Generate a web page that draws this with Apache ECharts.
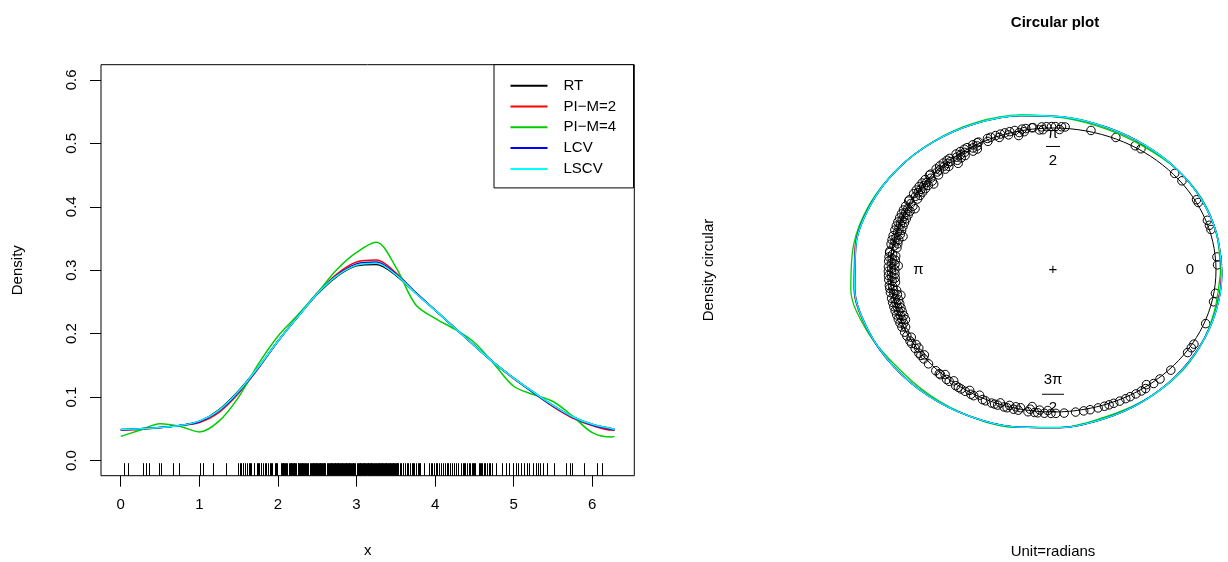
<!DOCTYPE html>
<html><head><meta charset="utf-8">
<script src="https://cdn.jsdelivr.net/npm/echarts@6/dist/echarts.min.js"></script>
<style>html,body{margin:0;padding:0;background:#fff}#c{width:1228px;height:562px}</style>
</head><body><div id="c"></div>
<script>
// ---- data ----
const xs   = [0,0.25,0.5,0.75,1,1.25,1.5,1.75,2,2.25,2.5,2.75,3,3.25,3.5,3.75,4,4.25,4.5,4.75,5,5.25,5.5,5.75,6,6.25,6.2832];
const rt   = [0.049,0.050,0.052,0.055,0.062,0.080,0.110,0.147,0.188,0.226,0.262,0.290,0.307,0.309,0.292,0.264,0.237,0.209,0.181,0.154,0.130,0.108,0.087,0.069,0.057,0.050,0.049];
const pim2 = [0.048,0.049,0.052,0.055,0.060,0.076,0.106,0.145,0.188,0.227,0.264,0.294,0.313,0.316,0.296,0.265,0.237,0.209,0.181,0.154,0.129,0.107,0.085,0.067,0.055,0.048,0.048];
const pim4 = [0.038,0.048,0.058,0.054,0.045,0.062,0.100,0.152,0.196,0.229,0.264,0.301,0.328,0.344,0.305,0.246,0.224,0.207,0.186,0.152,0.117,0.104,0.093,0.070,0.044,0.037,0.038];
const lcv  = [0.048,0.050,0.052,0.055,0.061,0.078,0.108,0.146,0.188,0.226,0.263,0.292,0.310,0.313,0.294,0.265,0.237,0.209,0.181,0.154,0.130,0.107,0.086,0.068,0.056,0.049,0.048];
const lscv = [0.049,0.050,0.052,0.055,0.062,0.079,0.109,0.147,0.188,0.226,0.263,0.291,0.308,0.311,0.293,0.264,0.237,0.209,0.181,0.154,0.130,0.108,0.087,0.069,0.057,0.050,0.049];
const rug = [0.036,0.091,0.286,0.317,0.354,0.49,0.512,0.671,0.739,1.007,1.048,1.179,1.338,1.497,1.519,1.53,1.556,1.58,1.61,1.633,1.64,1.655,1.692,1.70,1.737,1.75,1.76,1.782,1.79,1.805,1.837,1.85,1.868,1.896,1.91,1.927,1.959,1.98,1.986,
 2.04,2.05,2.06,2.07,2.08,2.09,2.10,2.12,2.14,2.15,2.16,2.17,2.18,2.19,2.20,2.21,2.22,2.23,2.25,2.26,2.27,2.28,2.29,2.30,2.31,2.32,2.33,2.35,2.36,2.37,2.38,2.41,2.42,2.43,2.44,2.45,2.46,2.47,2.48,2.49,2.50,2.51,2.52,2.53,2.54,2.55,2.56,2.57,2.58,2.59,2.60,2.63,2.64,2.65,2.66,2.67,2.68,2.69,2.70,2.71,2.72,2.73,2.74,2.75,2.76,2.77,2.78,2.79,2.80,2.81,2.82,2.83,2.84,2.85,2.86,2.87,2.88,2.89,2.90,2.91,2.92,2.93,2.94,2.95,2.96,2.97,2.98,3.01,3.02,3.03,3.04,3.05,3.06,3.07,3.08,3.09,3.10,3.11,3.12,3.13,3.14,3.15,3.16,3.17,3.18,3.19,3.20,3.21,3.22,3.23,3.25,3.26,3.27,3.28,3.29,3.30,3.31,3.32,3.33,3.34,3.35,3.36,3.37,3.38,3.39,3.40,3.41,3.42,3.43,3.44,3.45,3.46,3.47,3.48,3.49,3.50,3.51,3.52,3.53,3.55,3.56,
 3.59,3.62,3.64,3.66,3.68,3.70,3.72,3.73,3.76,3.78,3.79,3.81,3.855,3.92,3.95,3.96,3.98,4.01,4.03,4.05,4.08,4.10,4.12,4.15,4.17,4.19,4.21,4.24,4.27,4.29,4.33,4.35,4.37,4.38,4.41,4.43,4.44,4.47,4.48,4.50,4.51,4.56,4.57,4.58,4.60,4.62,4.63,4.66,4.68,4.70,4.73,4.78,4.85,4.90,4.94,4.99,5.03,5.06,5.09,5.13,5.17,5.20,5.24,5.28,5.31,5.33,5.37,5.42,5.51,5.67,5.71,5.74,5.90,6.06,6.12];
const names  = ['RT','PI\u2212M=2','PI\u2212M=4','LCV','LSCV'];
const colors = ['#000000','#FF0000','#00CD00','#0000FF','#00FFFF'];
const curves = [rt,pim2,pim4,lcv,lscv];
const xTicks = [0,1,2,3,4,5,6];
const yTicks = [0,0.1,0.2,0.3,0.4,0.5,0.6];

// ---- styling / layout constants ----
const FONT = 'Liberation Sans, Arial, sans-serif';
const K = 0.72;        // radial scale of density on the circular plot
const R0 = 1.01, SEP = 0.02, BINS = 200;
const SMOOTH = 0.33;

const chart = echarts.init(document.getElementById('c'), null, {renderer:'canvas'});

const series = [];
curves.forEach((d,i) => {
  series.push({
    type:'line', name:names[i], xAxisIndex:0, yAxisIndex:0,
    data: xs.map((x,j)=>[x,d[j]]), smooth:SMOOTH, showSymbol:false, silent:true,
    color: colors[i], lineStyle:{color:colors[i], width:1.5}, z: 3+i
  });
});
series.push({
  type:'custom', xAxisIndex:0, yAxisIndex:0, silent:true,
  data: rug.map(v=>[v,0]),
  renderItem:(params, api)=>{
    const cs = params.coordSys;
    const p = api.coord([api.value(0),0]);
    const yb = cs.y + cs.height;
    const x = Math.round(p[0]) + 0.5;
    return {type:'line', shape:{x1:x,y1:yb,x2:x,y2:yb-12.5}, style:{stroke:'#000', lineWidth:1}};
  }
});
// circle
series.push({
  type:'custom', xAxisIndex:1, yAxisIndex:1, silent:true, data:[[0,0]], z:2,
  renderItem:(params, api)=>{
    const c = api.coord([0,0]); const s = api.size([1,1]);
    return {type:'ellipse', shape:{cx:c[0], cy:c[1], rx:s[0], ry:s[1]}, style:{fill:'none', stroke:'#000', lineWidth:1}};
  }
});
// labels inside the circle
series.push({
  type:'custom', xAxisIndex:1, yAxisIndex:1, silent:true, data:[[0,0]], z:2,
  renderItem:(params, api)=>{
    const st = (t,x,y)=>({type:'text', style:{text:t, x:x, y:y, align:'center', verticalAlign:'middle', font:'15px '+FONT, fill:'#000'}});
    const c = api.coord([0,0]);
    const r0 = api.coord([0.84,0]), rp = api.coord([-0.825,0]);
    const t = api.coord([0,0.87]), b = api.coord([0,-0.875]);
    return {type:'group', children:[
      st('+', c[0], c[1]),
      st('0', r0[0], r0[1]),
      st('\u03C0', rp[0], rp[1]),
      st('\u03C0', t[0], t[1]-13),
      {type:'line', shape:{x1:t[0]-7, y1:t[1], x2:t[0]+7, y2:t[1]}, style:{stroke:'#000', lineWidth:1}},
      st('2', t[0], t[1]+14),
      st('3\u03C0', b[0], b[1]-14),
      {type:'line', shape:{x1:b[0]-11, y1:b[1], x2:b[0]+11, y2:b[1]}, style:{stroke:'#000', lineWidth:1}},
      st('2', b[0], b[1]+14)
    ]};
  }
});
// points on the circle (stacked inward per bin)
const binCount = {};
const pts = rug.slice().sort((a,b)=>a-b).map(v=>{
  const bin = Math.floor(v/(2*Math.PI)*BINS);
  const n = binCount[bin] || 0; binCount[bin] = n+1;
  const r = R0 - SEP*n;
  return [r*Math.cos(v), r*Math.sin(v)];
});
series.push({
  type:'scatter', xAxisIndex:1, yAxisIndex:1, silent:true, data:pts, symbol:'circle', symbolSize:8.5, z:3,
  itemStyle:{color:'rgba(0,0,0,0)', borderColor:'#000', borderWidth:1, opacity:1}
});
// densities on the circle
curves.forEach((d,i)=>{
  series.push({
    type:'line', name:names[i], xAxisIndex:1, yAxisIndex:1, silent:true,
    data: xs.map((x,j)=>{ const r = 1 + K*d[j]; return [r*Math.cos(x), r*Math.sin(x)]; }),
    smooth:SMOOTH, showSymbol:false, color:colors[i], lineStyle:{color:colors[i], width:1.3}, z:4+i, clip:false
  });
});

const axisTextStyle = {fontSize:15, fontFamily:FONT, color:'#000'};
chart.setOption({
  animation:false,
  backgroundColor:'#fff',
  textStyle:{fontFamily:FONT},
  graphic:[{type:'text', x:1055, y:23, style:{text:'Circular plot', x:0, y:0, align:'center', verticalAlign:'middle', font:'bold 15px '+FONT, fill:'#000'}}],
  legend:{
    data:names, orient:'vertical', left:494, top:64.7, icon:'rect', itemWidth:37, itemHeight:2, itemGap:4.8,
    padding:[13,0,11,16.5], borderColor:'#000', borderWidth:1, backgroundColor:'#fff', selectedMode:false,
    itemStyle:{borderWidth:0},
    textStyle:{fontSize:15, fontFamily:FONT, color:'#000', padding:[0,0,0,11], width:70, lineHeight:16}
  },
  grid:[
    {left:101, right:593.7, top:64.7, bottom:86.3, show:true, borderColor:'#000', borderWidth:1, backgroundColor:'rgba(0,0,0,0)', outerBoundsMode:'none', containLabel:false},
    {left:841.1, right:-36.9, top:92.5, bottom:114.5, show:false, outerBoundsMode:'none', containLabel:false}
  ],
  xAxis:[
    {type:'value', gridIndex:0, min:-0.2513, max:6.5345, axisLine:{show:false, onZero:false}, splitLine:{show:false},
     axisTick:{show:true, customValues:xTicks, length:11, lineStyle:{color:'#000', width:1}},
     axisLabel:{show:true, customValues:xTicks, margin:22, ...axisTextStyle},
     name:'x', nameLocation:'middle', nameGap:68, nameTextStyle:axisTextStyle},
    {type:'value', gridIndex:1, min:-1.3, max:1.3, axisLine:{show:false, onZero:false}, axisTick:{show:false}, axisLabel:{show:false}, splitLine:{show:false},
     name:'Unit=radians', nameLocation:'middle', nameGap:97, nameTextStyle:axisTextStyle}
  ],
  yAxis:[
    {type:'value', gridIndex:0, min:-0.024, max:0.624, axisLine:{show:false, onZero:false}, splitLine:{show:false},
     axisTick:{show:true, customValues:yTicks, length:11, lineStyle:{color:'#000', width:1}},
     axisLabel:{show:true, customValues:yTicks, rotate:90, margin:22, formatter:v=>v.toFixed(1), ...axisTextStyle},
     name:'Density', nameLocation:'middle', nameRotate:90, nameGap:76, nameTextStyle:axisTextStyle},
    {type:'value', gridIndex:1, min:-1.25, max:1.25, axisLine:{show:false, onZero:false}, axisTick:{show:false}, axisLabel:{show:false}, splitLine:{show:false},
     name:'Density circular', nameLocation:'middle', nameRotate:90, nameGap:125, nameTextStyle:axisTextStyle}
  ],
  series:series
});
</script></body></html>
